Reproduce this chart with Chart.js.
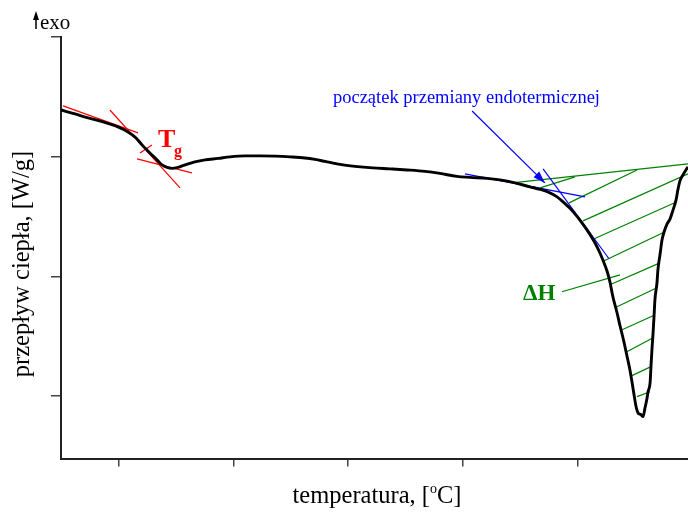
<!DOCTYPE html>
<html lang="pl">
<head>
<meta charset="UTF-8">
<title>DSC</title>
<script src="https://cdn.jsdelivr.net/npm/chart.js"></script>
<style>
    html, body { margin: 0; padding: 0; background: #fff; }
    canvas { display: block; }
</style>
</head>
<body>
<canvas id="myChart" width="688" height="514"></canvas>

<script>

    // DSC curve
    const temperature = [25.0, 31.1, 36.8, 43.3, 49.8, 54.2, 57.7, 60.3, 62.4, 64.6,
        66.8, 69.0, 71.2, 73.3, 75.9, 79.0, 83.3, 87.7, 93.4, 98.6,
        105.1, 111.6, 118.2, 124.7, 131.2, 135.6, 140.0, 146.5, 153.0, 160.8,
        168.2, 175.7, 183.5, 190.0, 197.4, 203.1, 210.5, 216.1, 222.7, 229.2,
        233.6, 237.9, 241.0, 243.6, 246.6, 249.7, 251.8, 254.0, 256.2, 258.4,
        259.7, 261.0, 262.7, 264.0, 265.3, 267.1, 268.4, 270.1, 271.4, 272.7,
        273.6, 274.5, 275.4, 276.2, 277.5, 278.4, 279.3, 280.2, 280.6, 281.5,
        281.9, 282.3, 282.8, 283.2, 283.6, 284.5, 284.9, 285.8, 286.7, 287.6,
        288.9, 290.2, 291.5, 292.8, 293.6, 294.5, 295.8, 297.1, 298.0];
    const heatFlow = [-0.613, -0.646, -0.679, -0.713, -0.754, -0.796, -0.846, -0.904, -0.946, -0.988,
        -1.029, -1.071, -1.092, -1.100, -1.092, -1.071, -1.046, -1.029, -1.017, -1.004,
        -0.996, -0.996, -0.998, -1.004, -1.013, -1.025, -1.042, -1.067, -1.083, -1.096,
        -1.104, -1.113, -1.125, -1.142, -1.167, -1.175, -1.183, -1.196, -1.221, -1.254,
        -1.275, -1.304, -1.338, -1.379, -1.433, -1.500, -1.554, -1.613, -1.679, -1.754,
        -1.808, -1.867, -1.954, -2.046, -2.171, -2.304, -2.413, -2.546, -2.663, -2.779,
        -2.879, -2.988, -3.088, -3.138, -3.154, -3.171, -3.096, -3.013, -2.963, -2.888,
        -2.746, -2.613, -2.471, -2.338, -2.196, -2.054, -1.946, -1.821, -1.696, -1.629,
        -1.563, -1.521, -1.446, -1.363, -1.279, -1.204, -1.154, -1.113, -1.088];

    const xTicks = [50, 100, 150, 200, 250];
    const yTicks = [-3, -2, -1, 0];

    // segments as [x1, y1, x2, y2]
    const tgTangents = [
        [25.9, -0.579, 58.5, -0.804],
        [46.3, -0.613, 76.8, -1.263],
        [58.1, -1.021, 82.0, -1.138],
        [59.4, -0.971, 64.6, -0.904]
    ];
    const onsetTangents = [
        [200.9, -1.146, 253.2, -1.338],
        [234.9, -1.104, 263.6, -1.854]
    ];
    const onsetArrow = [204.0, -0.621, 235.7, -1.221];
    const peakBaseline = [221.4, -1.221, 298.0, -1.063];
    const hatchLines = [
        [233.6, -1.263, 248.8, -1.171],
        [246.2, -1.388, 275.8, -1.113],
        [252.3, -1.538, 298.0, -1.146],
        [256.2, -1.696, 293.2, -1.379],
        [260.6, -1.879, 288.0, -1.629],
        [264.0, -2.071, 285.8, -1.888],
        [267.1, -2.254, 284.5, -2.096],
        [269.3, -2.446, 282.8, -2.329],
        [271.4, -2.629, 282.8, -2.513],
        [273.6, -2.829, 281.9, -2.754],
        [275.8, -3.004, 281.5, -2.963]
    ];
    const dhPointer = [243.1, -2.129, 268.4, -1.988];

    const RED = '#ff0000';
    const BLUE = '#0000ff';
    const GREEN = '#008000';
    const SERIF = '"Liberation Serif", "Times New Roman", serif';

    function segment(s, color) {
        return {
            data: [{x: s[0], y: s[1]}, {x: s[2], y: s[3]}],
            borderColor: color,
            borderWidth: 1.2,
            pointRadius: 0,
            order: 1
        };
    }

    const datasets = [{
        data: temperature.map((t, i) => ({x: t, y: heatFlow[i]})),
        borderColor: '#000',
        borderWidth: 2.9,
        pointRadius: 0,
        cubicInterpolationMode: 'monotone',
        order: 0
    }];
    tgTangents.forEach(s => datasets.push(segment(s, RED)));
    onsetTangents.forEach(s => datasets.push(segment(s, BLUE)));
    datasets.push(segment(onsetArrow, BLUE));
    datasets.push(segment(peakBaseline, GREEN));
    hatchLines.forEach(s => datasets.push(segment(s, GREEN)));
    datasets.push(segment(dhPointer, GREEN));

    const annotations = {
        id: 'annotations',
        afterDraw(chart) {
            const ctx = chart.ctx;
            const xs = chart.scales.x;
            const ys = chart.scales.y;
            ctx.save();

            // arrow head of the onset pointer
            const x1 = xs.getPixelForValue(onsetArrow[0]);
            const y1 = ys.getPixelForValue(onsetArrow[1]);
            const x2 = xs.getPixelForValue(onsetArrow[2]);
            const y2 = ys.getPixelForValue(onsetArrow[3]);
            const a = Math.atan2(y2 - y1, x2 - x1);
            const len = 12, half = 4;
            ctx.fillStyle = BLUE;
            ctx.beginPath();
            ctx.moveTo(x2, y2);
            ctx.lineTo(x2 - len * Math.cos(a) + half * Math.sin(a), y2 - len * Math.sin(a) - half * Math.cos(a));
            ctx.lineTo(x2 - len * Math.cos(a) - half * Math.sin(a), y2 - len * Math.sin(a) + half * Math.cos(a));
            ctx.closePath();
            ctx.fill();

            ctx.textBaseline = 'alphabetic';
            ctx.textAlign = 'left';

            // onset label
            ctx.font = '18.5px ' + SERIF;
            ctx.fillText('początek przemiany endotermicznej', xs.getPixelForValue(143.4), ys.getPixelForValue(-0.554));

            // Tg
            ctx.fillStyle = RED;
            ctx.font = 'bold 26px ' + SERIF;
            ctx.fillText('T', xs.getPixelForValue(67.2), ys.getPixelForValue(-0.921));
            ctx.font = 'bold 16px ' + SERIF;
            ctx.fillText('g', xs.getPixelForValue(74.2), ys.getPixelForValue(-0.996));

            // delta H
            ctx.fillStyle = GREEN;
            ctx.font = 'bold 23px ' + SERIF;
            ctx.fillText('ΔH', xs.getPixelForValue(226.2), ys.getPixelForValue(-2.196));

            // exo marker
            ctx.fillStyle = '#000';
            ctx.strokeStyle = '#000';
            ctx.lineWidth = 1.5;
            ctx.beginPath();
            ctx.moveTo(36, 29);
            ctx.lineTo(36, 18);
            ctx.stroke();
            ctx.beginPath();
            ctx.moveTo(36, 11);
            ctx.lineTo(33, 20);
            ctx.lineTo(39, 20);
            ctx.closePath();
            ctx.fill();
            ctx.font = '21px ' + SERIF;
            ctx.fillText('exo', 40, 29);

            // x title with superscript o
            ctx.font = '24.5px ' + SERIF;
            const partA = 'temperatura, [';
            const partC = 'C]';
            const wA = ctx.measureText(partA).width;
            const wC = ctx.measureText(partC).width;
            ctx.font = '14px ' + SERIF;
            const wO = ctx.measureText('o').width;
            let tx = 377 - (wA + wO + wC) / 2;
            ctx.font = '24.5px ' + SERIF;
            ctx.fillText(partA, tx, 503);
            ctx.font = '14px ' + SERIF;
            ctx.fillText('o', tx + wA, 493);
            ctx.font = '24.5px ' + SERIF;
            ctx.fillText(partC, tx + wA + wO, 503);

            // y title
            ctx.translate(29, 264);
            ctx.rotate(-Math.PI / 2);
            ctx.textAlign = 'center';
            ctx.fillText('przepływ ciepła, [W/g]', 0, 0);

            ctx.restore();
        }
    };

    const config = {
        type: 'line',
        data: {datasets: datasets},
        options: {
            responsive: false,
            animation: false,
            layout: {padding: {left: 51, top: 36.5, right: 0, bottom: 47.5}},
            plugins: {
                legend: false,
                tooltip: false
            },
            scales: {
                x: {
                    type: 'linear',
                    min: 25,
                    max: 298,
                    afterBuildTicks(scale) {
                        scale.ticks = xTicks.map(v => ({value: v}));
                    },
                    afterFit(scale) {
                        scale.height = 8;
                    },
                    ticks: {display: false},
                    grid: {drawOnChartArea: false, drawTicks: true, tickLength: 8, color: '#444', lineWidth: 1.5},
                    border: {display: true, color: '#222', width: 2}
                },
                y: {
                    type: 'linear',
                    min: -3.52,
                    max: 0,
                    afterBuildTicks(scale) {
                        scale.ticks = yTicks.map(v => ({value: v}));
                    },
                    afterFit(scale) {
                        scale.width = 10;
                    },
                    ticks: {display: false},
                    grid: {drawOnChartArea: false, drawTicks: true, tickLength: 10, color: '#444', lineWidth: 1.5},
                    border: {display: true, color: '#222', width: 2}
                }
            }
        },
        plugins: [annotations]
    };

    const chart = new Chart(document.getElementById('myChart').getContext('2d'), config);

</script>
</body>
</html>
